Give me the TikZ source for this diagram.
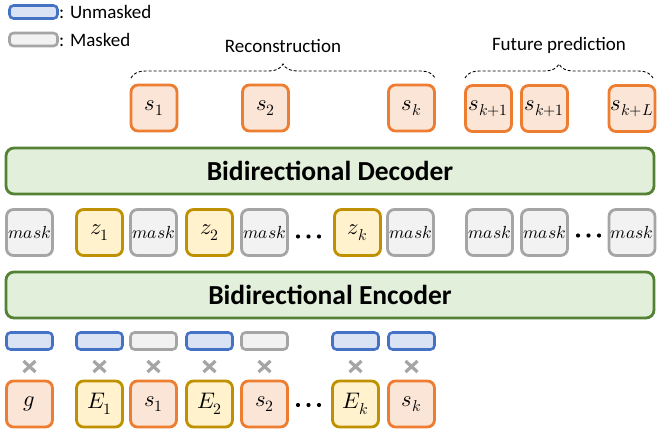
\documentclass[tikz,border=0pt]{standalone}
\usepackage{fontspec}
\usepackage{unicode-math}
\setmainfont{Carlito}
\setmathfont{latinmodern-math.otf}
\usetikzlibrary{decorations.pathreplacing,calc}
\definecolor{orB}{HTML}{ED7D31}\definecolor{orF}{HTML}{FBE5D6}
\definecolor{ylB}{HTML}{BF9000}\definecolor{ylF}{HTML}{FFF2CC}
\definecolor{gyB}{HTML}{A5A5A5}\definecolor{gyF}{HTML}{F2F2F2}
\definecolor{blB}{HTML}{4472C4}\definecolor{blF}{HTML}{DAE3F3}
\definecolor{gnB}{HTML}{548235}\definecolor{gnF}{HTML}{E2EFDA}
\tikzset{
 tok/.style={rectangle,rounded corners=7pt,line width=2.8pt,minimum width=46pt,minimum height=46pt,inner sep=0pt,font=\fontsize{22.5}{22.5}\selectfont},
 orbox/.style={tok,draw=orB,fill=orF},
 ylbox/.style={tok,draw=ylB,fill=ylF},
 gybox/.style={tok,draw=gyB,fill=gyF,font=\fontsize{17.5}{17.5}\selectfont},
 bar/.style={rectangle,rounded corners=4pt,line width=2.6pt,minimum width=46pt,minimum height=17pt,inner sep=0pt},
 blbar/.style={bar,draw=blB,fill=blF},
 gybar/.style={bar,draw=gyB,fill=gyF},
 coder/.style={rectangle,rounded corners=8pt,line width=2.8pt,draw=gnB,fill=gnF,minimum width=648pt,minimum height=46pt,inner sep=0pt,font=\fontsize{27.5}{27.5}\selectfont\bfseries},
 crossmark/.style={gyB,line width=3.2pt},
 lbl/.style={font=\fontsize{19}{19}\selectfont,inner sep=0pt},
 dotmark/.style={fill=black},
 brc/.style={decorate,decoration={brace,amplitude=14pt},dash pattern=on 3pt off 2pt,line width=0.9pt}
}
\begin{document}
\begin{tikzpicture}[x=1pt,y=-1pt]
\useasboundingbox (0,0) rectangle (657,434);
% legend
\node[blbar,minimum width=48pt,minimum height=13pt] (lgb) at (33.5,12) {};
\node[lbl,anchor=west] (lgbt) at (59,12) {: Unmasked};
\node[gybar,minimum width=48pt,minimum height=13pt] (lgg) at (33.5,39.5) {};
\node[lbl,anchor=west] (lggt) at (59,39.5) {: Masked};
% labels and braces
\node[lbl] (rec) at (283,46) {Reconstruction};
\node[lbl] (fut) at (559,45) {Future prediction};
\coordinate (b1l) at (131,78); \coordinate (b1r) at (435,78);
\coordinate (b2l) at (465,78); \coordinate (b2r) at (653,78);
\draw[brc] (b1l) -- (b1r);
\draw[brc] (b2l) -- (b2r);
% top outputs
\node[orbox] (o1) at (154,108) {$s_1$};
\node[orbox] (o2) at (265.5,108) {$s_2$};
\node[orbox] (ok) at (411.5,108) {$s_k$};
\node[orbox] (of1) at (488.5,108.5) {$s_{k+1}$};
\node[orbox] (of2) at (544.5,108.5) {$s_{k+1}$};
\node[orbox] (ofL) at (632,108.5) {$s_{k+L}$};
% decoder
\node[coder] (dec) at (330,171) {Bidirectional Decoder};
% middle row
\node[gybox] (m1) at (29.5,232.5) {$mask$};
\node[ylbox] (z1) at (99.5,232.5) {$z_1$};
\node[gybox] (m2) at (153.5,232.5) {$mask$};
\node[ylbox] (z2) at (209.5,232.5) {$z_2$};
\node[gybox] (m3) at (264.5,232.5) {$mask$};
\coordinate (d1) at (308.5,236.5);
\node[ylbox] (zk) at (357.5,232.5) {$z_k$};
\node[gybox] (m4) at (410.5,232.5) {$mask$};
\node[gybox] (m5) at (489.5,232.5) {$mask$};
\node[gybox] (m6) at (544.5,232.5) {$mask$};
\coordinate (d2) at (588.5,235.5);
\node[gybox] (m7) at (632,232.5) {$mask$};
% encoder
\node[coder] (enc) at (330,295) {Bidirectional Encoder};
% bars
\node[blbar] (bg) at (29.5,341) {};
\node[blbar] (bE1) at (99.5,341) {};
\node[gybar] (bs1) at (153.5,341) {};
\node[blbar] (bE2) at (209.5,341) {};
\node[gybar] (bs2) at (264.5,341) {};
\node[blbar] (bEk) at (355.5,341) {};
\node[blbar] (bsk) at (411.5,341) {};
% crosses
\foreach \n/\x in {cg/29.5,cE1/99.5,cs1/153.5,cE2/209.5,cs2/264.5,cEk/355.5,csk/411.5}{
  \coordinate (\n) at (\x,366.5);
  \draw[crossmark] ($(\n)+(-6,-5.5)$) -- ($(\n)+(6,5.5)$) ($(\n)+(-6,5.5)$) -- ($(\n)+(6,-5.5)$);
}
% bottom inputs
\node[orbox] (g) at (29.5,404) {$g$};
\node[ylbox] (E1) at (99.5,404) {$E_1$};
\node[orbox] (s1) at (153.5,404) {$s_1$};
\node[ylbox] (E2) at (209.5,404) {$E_2$};
\node[orbox] (s2) at (264.5,404) {$s_2$};
\coordinate (d3) at (308.5,405);
\node[ylbox] (Ek) at (355.5,404) {$E_k$};
\node[orbox] (sk) at (411.5,404) {$s_k$};
% ellipsis dots
\foreach \d in {d1,d2,d3}{
  \foreach \o in {-10.5,0,10.5}{
    \fill[dotmark] ($(\d)+(\o,0)$) circle (2.1pt);
  }
}
\end{tikzpicture}
\end{document}
